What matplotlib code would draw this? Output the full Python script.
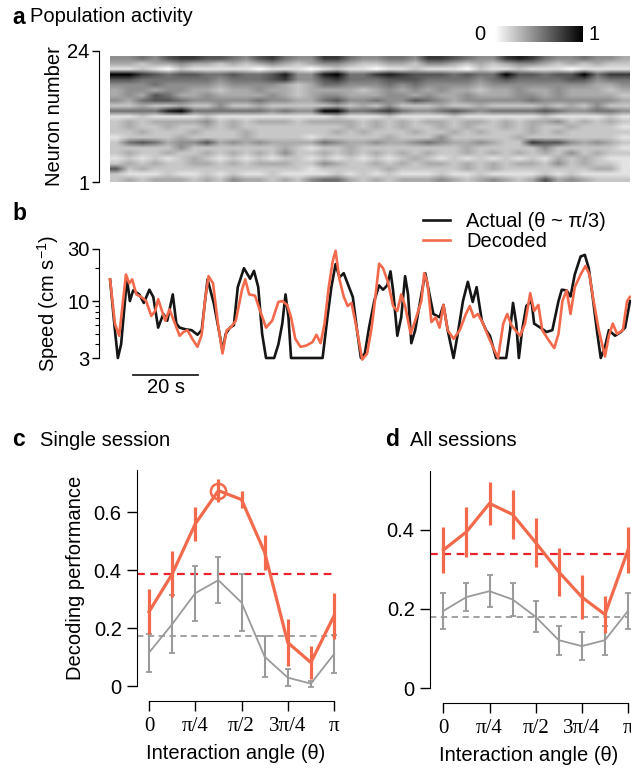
import numpy as np
import matplotlib
matplotlib.use("Agg")
import matplotlib.pyplot as plt
from matplotlib.ticker import FixedLocator, NullFormatter

plt.rcParams["font.family"] = ["Liberation Sans", "DejaVu Sans"]
plt.rcParams["mathtext.fontset"] = "custom"
plt.rcParams["mathtext.rm"] = "Liberation Sans"

W, H = 631, 771

# ---- panel a: population activity, rows top (neuron 24) to bottom (neuron 1), digits 0-9
activity_rows = [
    "4454677665" "4675447754" "4554776544" "7875445443",
    "3323343323" "2343234432" "2332443232" "3443232322",
    "1121021111" "1011101211" "0112111021" "1211101111",
    "9976566556" "5568448955" "7876665655" "9665669577",
    "6655555545" "5567446755" "5666555545" "6555566455",
    "4445444434" "4443235544" "4545444434" "4444444334",
    "3443443323" "3433233332" "3434343323" "3433433323",
    "3436533433" "3343234433" "3443433433" "3443433332",
    "4356654444" "4544335644" "5446543444" "4454444443",
    "2232232242" "2322222323" "2422232232" "2223232422",
    "5555895555" "5545449955" "6754456545" "5556544554",
    "1121111211" "1111111211" "1211112111" "1112111121",
    "2323333423" "2333233332" "3232332332" "3233423232",
    "2322322323" "2222222232" "3232232322" "3232232221",
    "2232223222" "3222222323" "2223223232" "2232322222",
    "1222232222" "3222212222" "2322242222" "2322222221",
    "2565344634" "3433335433" "4334543343" "2276643432",
    "2222242222" "2223212232" "2222222322" "2224222221",
    "2322322323" "2324223232" "3232322323" "2323242322",
    "1212123212" "1212212121" "2123212121" "2121323211",
    "2323223323" "2333224322" "3232332323" "2332423221",
    "6232222222" "2222212222" "2322222323" "2222222331",
    "2111211212" "1121111212" "1211121121" "1112121111",
    "2323332324" "3323245532" "3233343234" "3236343222",
]

# ---- panel b: speed traces (s, cm/s)
t_actual = [0.0, 1.5, 2.4, 3.4, 5.2, 6.1, 7.1, 9.0, 10.4, 12.1, 13.3, 14.8, 16.4, 17.6,
            19.3, 20.4, 21.4, 23.2, 25.1, 26.9, 28.2, 30.0, 31.9, 33.8, 34.6, 35.6, 36.9,
            38.1, 39.3, 41.2, 43.1, 44.3, 45.6, 46.8, 48.0, 50.5, 51.8, 53.0, 54.0, 54.9,
            55.7, 65.4, 66.9, 68.1, 69.4, 70.6, 71.9, 73.1, 74.7, 76.0, 77.2, 78.4, 79.7,
            81.3, 82.8, 84.0, 85.3, 86.3, 87.1, 88.4, 89.6, 90.8, 91.7, 92.7, 93.9, 95.8,
            97.0, 98.3, 99.5, 101.4, 102.6, 103.9, 105.7, 107.0, 108.6, 110.1, 111.6,
            112.8, 114.4, 115.7, 116.9, 118.8, 121.9, 123.1, 124.0, 125.0, 125.8, 126.8,
            128.1, 129.7, 130.5, 132.4, 134.3, 136.1, 138.0, 139.0, 140.5, 141.7, 143.0,
            144.8, 146.1, 147.3, 148.5, 149.8, 151.0, 152.3, 153.5, 155.4, 157.2, 158.5,
            160.0]
v_actual = [15.8, 5.4, 3.0, 4.0, 16.0, 10.0, 12.5, 11.5, 9.6, 12.7, 10.9, 5.7, 7.6, 6.6,
            11.5, 6.2, 5.7, 5.5, 5.4, 4.9, 5.4, 15.8, 9.6, 4.8, 3.5, 5.0, 5.7,
            6.0, 13.4, 20.0, 16.0, 18.9, 13.4, 5.0, 3.0, 3.0, 4.0, 6.2, 11.5, 7.1,
            3.0, 3.0, 7.1, 13.4, 21.8, 16.5, 18.0, 14.5, 10.9, 5.4, 3.0, 3.3, 5.7,
            10.0, 13.9, 12.7, 13.9, 18.7, 12.5, 4.8, 7.1, 16.9, 11.5, 4.1, 5.4, 11.5,
            18.0, 11.5, 7.6, 7.1, 9.2, 5.4, 3.0, 5.0, 10.0, 15.0, 9.8,
            13.4, 6.6, 5.4, 4.8, 3.0, 3.0, 5.4, 9.6, 6.2, 3.0, 5.4,
            9.0, 10.0, 6.2, 5.7, 5.2, 5.4, 10.0, 12.7, 12.5, 11.0, 17.5,
            25.6, 26.5, 20.0, 11.0, 5.4, 3.0, 3.8, 5.4, 4.8, 5.2, 5.7,
            10.0]
t_decoded = [0.0, 1.5, 2.8, 4.0, 4.9, 5.9, 6.8, 8.1, 9.6, 11.1, 12.7, 13.9, 14.8, 15.8,
             17.0, 18.3, 19.8, 21.4, 22.6, 23.8, 25.5, 26.9, 28.2, 29.2, 30.3, 31.7, 33.2,
             34.6, 35.9, 37.1, 38.7, 40.6, 41.6, 42.8, 44.6, 46.2, 48.0, 49.9, 51.8, 53.0,
             54.5, 55.7, 57.0, 58.6, 60.4, 62.3, 63.5, 64.8, 66.0, 67.3, 68.5, 69.4, 70.6,
             71.9, 73.1, 74.3, 76.0, 77.6, 79.1, 80.5, 81.5, 82.8, 84.0, 85.5, 87.1, 88.4,
             89.6, 90.8, 92.5, 93.9, 95.8, 96.7, 97.7, 98.9, 100.2, 101.4, 102.6, 103.9,
             105.7, 107.6, 109.5, 110.7, 111.9, 113.2, 114.8, 116.3, 117.8, 119.4, 121.0,
             122.2, 123.5, 124.7, 126.2, 127.7, 129.3, 130.5, 131.8, 133.0, 134.9, 136.7,
             138.0, 139.2, 140.5, 141.7, 143.0, 144.8, 146.3, 147.5, 148.8, 150.4, 152.3,
             153.5, 154.7, 156.0, 157.8, 159.1, 160.0]
v_decoded = [15.8, 6.2, 4.8, 10.0, 17.5, 14.5, 15.8, 11.5, 10.9, 10.0, 7.3, 8.1, 10.4, 8.4,
             6.6, 8.4, 6.4, 4.8, 5.2, 5.4, 4.4, 3.8, 4.9, 10.0, 16.9, 14.5, 6.2,
             3.3, 5.4, 5.7, 6.6, 12.7, 15.8, 11.5, 11.2, 8.1, 5.7, 6.6, 9.8, 10.0,
             9.2, 7.1, 4.5, 3.8, 3.9, 4.2, 4.9, 4.1, 6.2, 13.4, 23.0, 28.9, 15.8,
             11.0, 9.0, 9.6, 5.4, 2.9, 3.3, 5.7, 10.0, 22.0, 20.0, 15.0, 9.0, 8.1,
             11.5, 9.0, 5.0, 6.6, 10.0, 18.0, 14.5, 6.4, 7.1, 5.7, 9.2, 5.4,
             4.5, 5.4, 7.6, 9.0, 7.1, 7.6, 6.2, 4.8, 3.8, 3.0, 6.2,
             7.6, 6.0, 5.4, 4.8, 6.2, 11.8, 8.1, 9.2, 5.4, 4.4, 3.7,
             5.0, 10.0, 12.5, 7.6, 13.4, 17.5, 21.0, 17.5, 10.0, 5.4, 3.1,
             4.8, 6.2, 5.0, 5.4, 10.0, 10.9]

# ---- panels c, d: decoding performance vs interaction angle
angles = np.arange(9) * np.pi / 8
angle_ticks = [0, np.pi / 4, np.pi / 2, 3 * np.pi / 4, np.pi]
angle_labels = ["0", "\u03c0/4", "\u03c0/2", "3\u03c0/4", "\u03c0"]

single_perf = [0.256, 0.386, 0.559, 0.674, 0.643, 0.461, 0.150, 0.081, 0.242]
single_err = [0.077, 0.079, 0.060, 0.040, 0.030, 0.060, 0.082, 0.057, 0.080]
single_shuf = [0.115, 0.213, 0.320, 0.365, 0.288, 0.101, 0.029, 0.008, 0.110]
single_shuf_err = [0.066, 0.100, 0.095, 0.080, 0.100, 0.070, 0.030, 0.010, 0.065]
single_chance = 0.386
single_shuf_chance = 0.173

all_perf = [0.349, 0.395, 0.467, 0.439, 0.368, 0.294, 0.230, 0.186, 0.349]
all_err = [0.058, 0.063, 0.055, 0.063, 0.063, 0.060, 0.055, 0.048, 0.058]
all_shuf = [0.195, 0.230, 0.245, 0.224, 0.180, 0.121, 0.106, 0.121, 0.195]
all_shuf_err = [0.046, 0.036, 0.040, 0.041, 0.039, 0.037, 0.035, 0.037, 0.046]
all_chance = 0.340
all_shuf_chance = 0.180

RED = "#f26a4b"
DRED = "#e8222a"
GRAY = "#9a9a9a"
FS = 14.5


def rect(l, t, r, b):
    return [l / W, 1 - b / H, (r - l) / W, (b - t) / H]


fig = plt.figure(figsize=(W / 100, H / 100), dpi=100)

# ---------------- a
ax_a = fig.add_axes(rect(99, 51, 630, 182))
grid = np.array([[int(c) for c in row] for row in activity_rows]) / 9.0
ax_a.imshow(grid, cmap="gray_r", vmin=0, vmax=1, aspect="auto",
            extent=(0, 160, 0.5, 24.5), interpolation="bilinear")
ax_a.set_xlim(-3.4, 160)
ax_a.set_ylim(0.5, 25.5)
for s in ["top", "right", "bottom"]:
    ax_a.spines[s].set_visible(False)
ax_a.set_xticks([])
ax_a.set_yticks([0.5, 25.5])
ax_a.set_yticklabels(["1", "24"], fontsize=FS)
ax_a.tick_params(axis="y", length=5, width=1, pad=2)
ax_a.set_ylabel("Neuron number", fontsize=FS, labelpad=2)
fig.text(12 / W, 1 - 17 / H, "a", fontsize=FS + 2, fontweight="bold", va="center")
fig.text(30 / W, 1 - 17 / H, "Population activity", fontsize=FS, va="center")

# colour bar
ax_cb = fig.add_axes(rect(495, 26, 583, 42))
ax_cb.imshow(np.linspace(0, 1, 256)[None, :], cmap="gray_r", aspect="auto")
ax_cb.axis("off")
fig.text(480 / W, 1 - 35 / H, "0", fontsize=FS, ha="center", va="center")
fig.text(594 / W, 1 - 35 / H, "1", fontsize=FS, ha="center", va="center")

# ---------------- b
ax_b = fig.add_axes(rect(99, 249, 630, 358))
ax_b.plot(t_actual, v_actual, color="#151515", lw=1.9, clip_on=False,
          label="Actual (\u03b8 ~ \u03c0/3)")
ax_b.plot(t_decoded, v_decoded, color=RED, lw=1.9, clip_on=False, label="Decoded")
ax_b.set_yscale("log")
ax_b.set_xlim(-3.4, 160)
ax_b.set_ylim(3, 30)
ax_b.yaxis.set_major_locator(FixedLocator([3, 10, 30]))
ax_b.yaxis.set_minor_locator(FixedLocator([4, 5, 6, 7, 8, 9, 20]))
ax_b.yaxis.set_minor_formatter(NullFormatter())
ax_b.set_yticklabels(["3", "10", "30"], fontsize=FS)
ax_b.tick_params(axis="y", which="major", length=5, width=1, pad=2)
ax_b.tick_params(axis="y", which="minor", length=3, width=0.8)
for s in ["top", "right", "bottom"]:
    ax_b.spines[s].set_visible(False)
ax_b.set_xticks([])
ax_b.set_ylabel("Speed (cm s$^{-1}$)", fontsize=FS, labelpad=4)
ax_b.legend(loc="upper left", bbox_to_anchor=(0.61, 1.34), frameon=False,
            fontsize=FS, handlelength=1.35, handletextpad=0.8, borderpad=0,
            borderaxespad=0, labelspacing=0.05)
trans = ax_b.get_xaxis_transform()
ax_b.plot([7.1, 27.1], [-0.156, -0.156], color="#222222", lw=1.3,
          transform=trans, clip_on=False)
ax_b.text(17.1, -0.27, "20 s", transform=trans, ha="center", va="center", fontsize=FS)
fig.text(12 / W, 1 - 213 / H, "b", fontsize=FS + 2, fontweight="bold", va="center")


# ---------------- c, d
def perf_panel(ax, perf, err, shuf, shuf_err, chance, shuf_chance, ymax, yticks, ylabels):
    ax.axhline(chance, color=DRED, lw=1.6, ls=(0, (3.5, 2.5)), zorder=1)
    ax.axhline(shuf_chance, color=GRAY, lw=1.3, ls=(0, (3.5, 2.5)), zorder=1)
    ax.errorbar(angles, shuf, yerr=shuf_err, color=GRAY, lw=1.3, elinewidth=1.5,
                capsize=2.5, capthick=1.3, clip_on=False, zorder=2)
    ax.errorbar(angles, perf, yerr=err, color=RED, lw=2.3, elinewidth=2.3,
                capsize=0, clip_on=False, zorder=3)
    ax.set_xlim(ax.get_xlim()[0], np.pi)
    ax.set_ylim(0, ymax)
    ax.spines["top"].set_visible(False)
    ax.spines["right"].set_visible(False)
    ax.spines["bottom"].set_position(("outward", 11))
    ax.spines["bottom"].set_bounds(0, np.pi)
    ax.spines["left"].set_bounds(0, ymax)
    ax.set_xticks(angle_ticks)
    ax.set_xticklabels(angle_labels, fontsize=FS + 0.5, family="Liberation Serif")
    ax.set_yticks(yticks)
    ax.set_yticklabels(ylabels, fontsize=FS)
    ax.tick_params(axis="both", length=7, width=1, pad=4)
    ax.set_xlabel("Interaction angle (\u03b8)", fontsize=FS, labelpad=6)


ax_c = fig.add_axes(rect(137, 470, 334, 686))
ax_c.set_xlim(-0.204, np.pi)
perf_panel(ax_c, single_perf, single_err, single_shuf, single_shuf_err,
           single_chance, single_shuf_chance, 0.745, [0, 0.2, 0.4, 0.6],
           ["0", "0.2", "0.4", "0.6"])
ax_c.plot(angles[3], single_perf[3], "o", ms=11, mfc="none", mec=RED, mew=1.8,
          zorder=4, clip_on=False)
ax_c.set_ylabel("Decoding performance", fontsize=FS, labelpad=6)
fig.text(12 / W, 1 - 440 / H, "c", fontsize=FS + 2, fontweight="bold", va="center")
fig.text(40 / W, 1 - 440 / H, "Single session", fontsize=FS, va="center")

ax_d = fig.add_axes(rect(430, 471, 628, 688))
ax_d.set_xlim(-0.227, np.pi)
perf_panel(ax_d, all_perf, all_err, all_shuf, all_shuf_err,
           all_chance, all_shuf_chance, 0.549, [0, 0.2, 0.4], ["0", "0.2", "0.4"])
fig.text(385 / W, 1 - 440 / H, "d", fontsize=FS + 2, fontweight="bold", va="center")
fig.text(410 / W, 1 - 440 / H, "All sessions", fontsize=FS, va="center")

fig.savefig("out.png", dpi=100)
